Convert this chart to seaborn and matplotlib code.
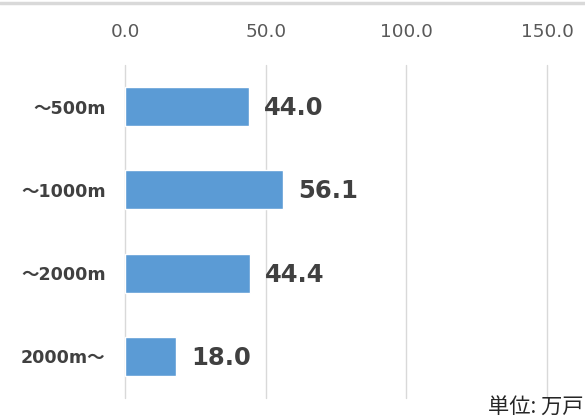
import matplotlib
matplotlib.use("Agg")
import matplotlib.pyplot as plt
import seaborn as sns
import pandas as pd

categories = ["～500m", "～1000m", "～2000m", "2000m～"]
values = [44.0, 56.1, 44.4, 18.0]
tick_values = [0, 50, 100, 150]
tick_labels = ["0.0", "50.0", "100.0", "150.0"]
unit_text = "単位: 万戸"

sns.set_theme(style="white")
plt.rcParams["font.family"] = ["DejaVu Sans", "Noto Sans CJK JP"]

df = pd.DataFrame({"category": categories, "value": values})

fig = plt.figure(figsize=(5.85, 4.20), dpi=100)
ax = fig.add_axes([125 / 585, 1 - 398 / 420, (547 - 125) / 585, (398 - 65) / 420])

sns.barplot(data=df, x="value", y="category", color="#5B9BD5", saturation=1,
            width=0.47, ax=ax, zorder=3)

ax.set_xlim(0, 150)
ax.set_ylim(3.5, -0.5)
ax.set_xticks(tick_values)
ax.set_xticklabels(tick_labels)
ax.xaxis.tick_top()
ax.tick_params(axis="x", length=0, pad=17, labelsize=13.3, labelcolor="#595959")
ax.tick_params(axis="y", length=0, pad=14)
for lbl in ax.get_yticklabels():
    lbl.set_fontweight("bold")
    lbl.set_fontsize(12.6)
    lbl.set_color("#404040")
    lbl.set_family(["DejaVu Sans", "Noto Sans CJK JP"])
ax.set_xlabel("")
ax.set_ylabel("")
ax.grid(axis="x", color="#D9D9D9", linewidth=1, zorder=0)
for gl in ax.get_xgridlines():
    gl.set_clip_on(False)
for s in ax.spines.values():
    s.set_visible(False)

for i, v in enumerate(values):
    ax.annotate(f"{v:.1f}", xy=(v, i), xytext=(11, -1), textcoords="offset points",
                va="center", ha="left", fontsize=17.5, fontweight="bold",
                color="#404040", family=["DejaVu Sans"])

fig.text(584 / 585, 1 - 407.5 / 420, unit_text, ha="right", va="center",
         fontsize=15.3, color="#262626", family=["Noto Sans CJK JP", "DejaVu Sans"])

fig.add_artist(plt.Line2D([0, 1], [1 - 3 / 420, 1 - 3 / 420],
                          transform=fig.transFigure, color="#D9D9D9", linewidth=2.5))

fig.savefig("out.png", dpi=100, facecolor="white")
